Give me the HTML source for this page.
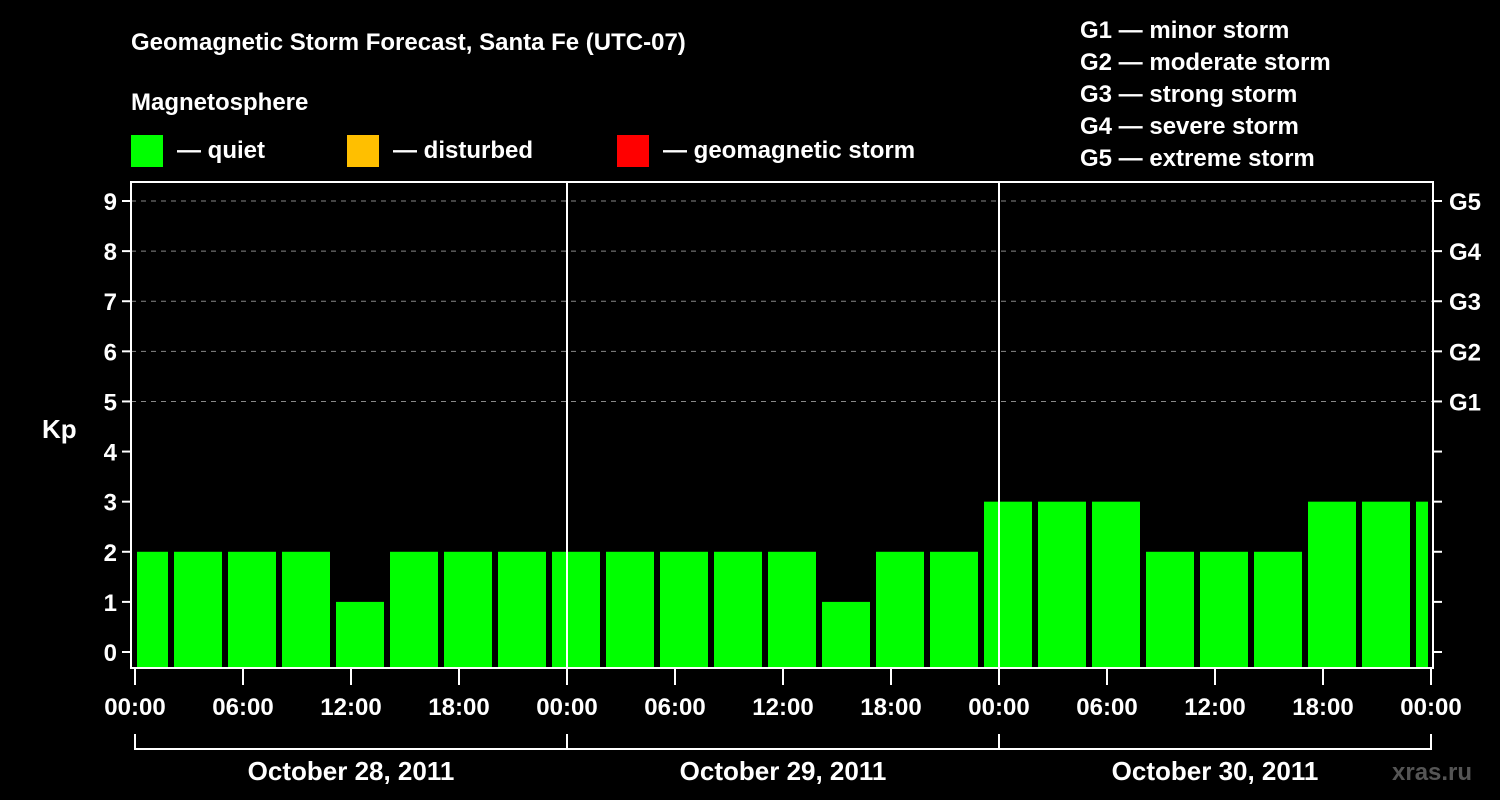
<!DOCTYPE html>
<html><head><meta charset="utf-8"><style>
html,body{margin:0;padding:0;background:#000;}
svg{display:block;font-family:"Liberation Sans",sans-serif;font-weight:bold;}
</style></head><body>
<svg id="chart" width="1500" height="800" viewBox="0 0 1500 800">
<rect width="1500" height="800" fill="#000"/>
<text x="131" y="50" fill="#fff" font-size="24">Geomagnetic Storm Forecast, Santa Fe (UTC-07)</text>
<text x="131" y="110" fill="#fff" font-size="24">Magnetosphere</text>
<g><rect x="131" y="135" width="32" height="32" fill="#00ff00"/><text x="177" y="158" fill="#fff" font-size="24">— quiet</text></g>
<g><rect x="347" y="135" width="32" height="32" fill="#ffbf00"/><text x="393" y="158" fill="#fff" font-size="24">— disturbed</text></g>
<g><rect x="617" y="135" width="32" height="32" fill="#ff0000"/><text x="663" y="158" fill="#fff" font-size="24">— geomagnetic storm</text></g>
<g fill="#fff" font-size="24">
<text x="1080" y="38">G1 — minor storm</text>
<text x="1080" y="70">G2 — moderate storm</text>
<text x="1080" y="102">G3 — strong storm</text>
<text x="1080" y="134">G4 — severe storm</text>
<text x="1080" y="166">G5 — extreme storm</text>
</g>
<text x="42" y="438" fill="#fff" font-size="26">Kp</text>
<text x="1392" y="780" fill="#555" font-size="24">xras.ru</text>
<g id="grid"></g><g id="bars"></g><g id="axes"></g>
</svg>
<script>
const kpValues=[2,2,2,2,1,2,2,2,2,2,2,2,2,1,2,2,3,3,3,2,2,2,3,3,3];
const yTicks=[0,1,2,3,4,5,6,7,8,9];
const gLabels=["G1","G2","G3","G4","G5"];
const gLevels=[5,6,7,8,9];
const timeLabels=["00:00","06:00","12:00","18:00","00:00","06:00","12:00","18:00","00:00","06:00","12:00","18:00","00:00"];
const dayLabels=["October 28, 2011","October 29, 2011","October 30, 2011"];
const NS="http://www.w3.org/2000/svg";
const L=131,R=1433,T=182,B=668;
const y=v=>652-v*50.11;
const x=h=>135+18*h;
function mk(tag,attrs,parent){const e=document.createElementNS(NS,tag);for(const k in attrs)e.setAttribute(k,attrs[k]);parent.appendChild(e);return e;}
const grid=document.getElementById('grid'),bars=document.getElementById('bars'),axes=document.getElementById('axes');
gLevels.forEach(v=>{const l=mk('line',{x1:L,x2:R,y1:y(v),y2:y(v),stroke:'#888','stroke-dasharray':'5,5','stroke-width':1},grid);

});
kpValues.forEach((v,i)=>{let c=x(0.5+3*i);let a=Math.max(c-24,137),b=Math.min(c+24,1428);
const r=mk('rect',{x:a,y:y(v),width:b-a,height:B-y(v),fill:v>=5?'#ff0000':(v>=4?'#ffbf00':'#00ff00')},bars);

});
[1,2].forEach(d=>{const l=mk('line',{x1:x(24*d),x2:x(24*d),y1:T,y2:B,stroke:'#fff','stroke-width':2},axes);

});
const fr=mk('rect',{x:L,y:T,width:R-L,height:B-T,fill:'none',stroke:'#fff','stroke-width':2},axes);


yTicks.forEach(v=>{mk('line',{x1:L-9,x2:L,y1:y(v),y2:y(v),stroke:'#fff','stroke-width':2},axes);
mk('line',{x1:R,x2:R+9,y1:y(v),y2:y(v),stroke:'#fff','stroke-width':2},axes);
const t=mk('text',{x:L-14,y:y(v)+9,fill:'#fff','font-size':24,'text-anchor':'end'},axes);t.textContent=v;

});
gLabels.forEach((g,i)=>{const t=mk('text',{x:1449,y:y(gLevels[i])+9,fill:'#fff','font-size':24},axes);t.textContent=g;

});
timeLabels.forEach((s,i)=>{const xx=Math.min(x(6*i),1431);mk('line',{x1:xx,x2:xx,y1:B,y2:685,stroke:'#fff','stroke-width':2},axes);
const t=mk('text',{x:xx,y:715,fill:'#fff','font-size':24,'text-anchor':'middle'},axes);t.textContent=s;

});
mk('line',{x1:135,x2:1431,y1:749,y2:749,stroke:'#fff','stroke-width':2},axes);
[0,1,2,3].forEach(d=>{const xx=Math.min(x(24*d),1431);mk('line',{x1:xx,x2:xx,y1:734,y2:750,stroke:'#fff','stroke-width':2},axes);});
dayLabels.forEach((s,i)=>{const t=mk('text',{x:x(24*i+12),y:780,fill:'#fff','font-size':26,'text-anchor':'middle'},axes);t.textContent=s;

});
</script>
</body></html>
